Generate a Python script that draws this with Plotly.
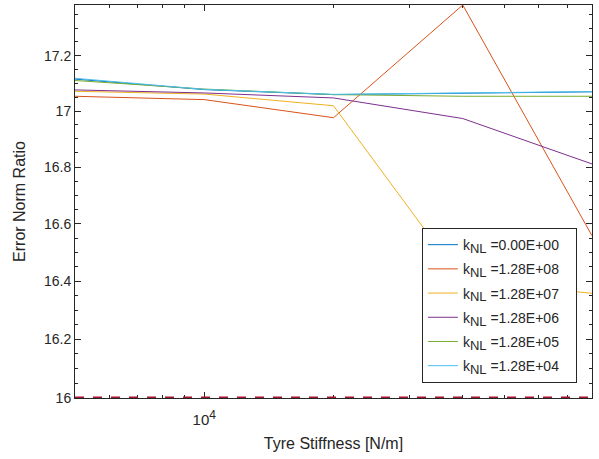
import numpy as np
import plotly.graph_objects as go

stiffness = [5000, 10000, 20000, 40000, 80000]
labels = ["0.00E+00", "1.28E+08", "1.28E+07", "1.28E+06", "1.28E+05", "1.28E+04"]
colors = ["#0072BD", "#D95319", "#EDB120", "#7E2F8E", "#77AC30", "#4DBEEE"]
ratio_0 = [17.115, 17.077, 17.059, 17.065, 17.069]
ratio_128e8 = [17.053, 17.041, 16.976, 17.385, 16.558]
ratio_128e7 = [17.071, 17.061, 17.019, 16.400, 16.358]
ratio_128e6 = [17.076, 17.065, 17.047, 16.973, 16.811]
ratio_128e5 = [17.110, 17.079, 17.059, 17.053, 17.053]
ratio_128e4 = [17.118, 17.078, 17.060, 17.066, 17.070]
series = [ratio_0, ratio_128e8, ratio_128e7, ratio_128e6, ratio_128e5, ratio_128e4]
ref_level = [16, 16]
ref_x = [5000, 80000]

y_ticks = [16, 16.2, 16.4, 16.6, 16.8, 17, 17.2]
y_ticktext = ["16", "16.2", "16.4", "16.6", "16.8", "17", "17.2"]
x_ticks = [10000]
x_ticktext = ["10<sup><span style='font-size:12px'>4</span></sup>"]
x_minor = [5000, 6000, 7000, 8000, 9000, 20000, 30000, 40000, 50000, 60000, 70000, 80000]
y_minor = [round(v, 2) for v in np.arange(16.0, 17.40, 0.05)]

fig = go.Figure()
for i, (lab, col, ys) in enumerate(zip(labels, colors, series)):
    fig.add_trace(go.Scatter(
        x=stiffness, y=ys, mode="lines",
        line=dict(color=col, width=1),
        name="k<sub><span style='font-size:13px'>NL</span></sub> =" + lab + "&nbsp;&nbsp;&nbsp;",
        legendgroup="g%d" % i,
    ))
fig.add_trace(go.Scatter(
    x=ref_x, y=ref_level, mode="lines",
    line=dict(color="#A2142F", width=3, dash="dash"),
    showlegend=False,
))

axcol = "#262626"
font = "Liberation Sans, Arial, sans-serif"
fig.update_layout(
    width=599, height=459,
    margin=dict(l=75, r=7, t=5, b=61),
    paper_bgcolor="white", plot_bgcolor="white",
    font=dict(family=font, size=14, color=axcol),
    showlegend=True,
    legend=dict(
        x=0.671, xanchor="left", y=0.038, yanchor="bottom",
        bgcolor="white", bordercolor=axcol, borderwidth=1,
        font=dict(size=14, color=axcol),
        tracegroupgap=3, itemwidth=30,
    ),
    xaxis=dict(
        type="log", range=[np.log10(5000), np.log10(80000)],
        tickvals=x_ticks, ticktext=x_ticktext, tickfont=dict(size=15),
        ticks="inside", ticklen=6, tickcolor=axcol, ticklabelstandoff=8,
        minor=dict(tickvals=x_minor, ticks="inside", ticklen=3, tickcolor=axcol),
        showline=True, linecolor=axcol, linewidth=1, mirror="ticks",
        showgrid=False, zeroline=False,
        title=dict(text="Tyre Stiffness [N/m]", font=dict(size=16), standoff=10),
        layer="below traces",
    ),
    yaxis=dict(
        type="log", range=[np.log10(16), np.log10(17.385)],
        tickvals=y_ticks, ticktext=y_ticktext, tickfont=dict(size=14),
        ticks="inside", ticklen=6, tickcolor=axcol,
        minor=dict(tickvals=y_minor, ticks="inside", ticklen=3, tickcolor=axcol),
        showline=True, linecolor=axcol, linewidth=1, mirror="ticks",
        showgrid=False, zeroline=False,
        title=dict(text="Error Norm Ratio", font=dict(size=16), standoff=14),
        layer="below traces",
    ),
)
fig.write_html("out.html")
